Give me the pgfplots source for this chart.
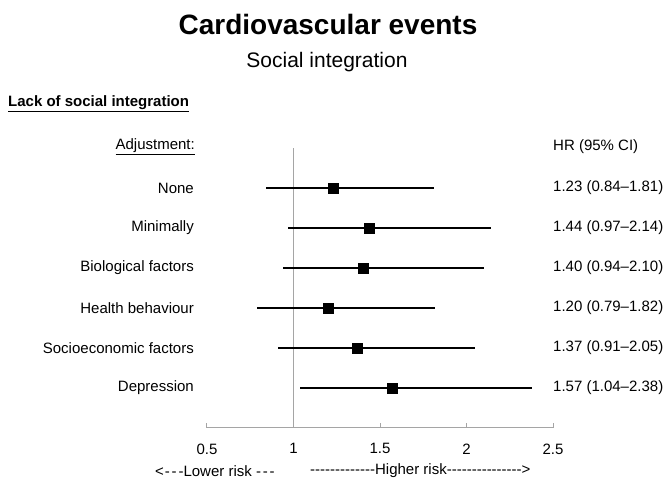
\documentclass[border=0pt]{standalone}
\usepackage{pgfplots}
\pgfplotsset{compat=1.18}
\usepackage{pgfplotstable}
\usepackage{fontspec}
\setmainfont{Liberation Sans}[Ligatures=TeXOff]

\definecolor{refgray}{RGB}{165,165,165}

% hazard ratios, row 6 = top
\pgfplotstableread{
row hr lo hi
6 1.23 0.84 1.81
5 1.44 0.97 2.14
4 1.40 0.94 2.10
3 1.20 0.79 1.82
2 1.37 0.91 2.05
1 1.57 1.04 2.38
}\hrdata

\newcommand{\fs}{\fontsize{15pt}{18pt}\selectfont}
\newcommand{\dsh}{-\kern1.8pt-\kern1.8pt-}

\begin{document}
\begin{tikzpicture}[font=\fs]
\path[use as bounding box] (0,0) rectangle (670pt,478pt);

\node[font=\fontsize{28pt}{32pt}\selectfont\bfseries] at (328pt,453pt) {Cardiovascular events};
\node[font=\fontsize{21pt}{25pt}\selectfont] at (327pt,416pt) {Social integration};
\node[anchor=west, inner sep=0pt, font=\fs\bfseries] at (8pt,374pt) {\underline{Lack of social integration}};
\node[anchor=east, inner sep=0pt] at (195pt,331pt) {\underline{Adjustment:}};
\node[anchor=west, inner sep=0pt] at (553pt,331pt) {HR (95\% CI)};

\begin{axis}[
  at={(207pt,50pt)}, anchor=south west,
  scale only axis, width=346pt, height=280pt,
  xmin=0.5, xmax=2.5, ymin=0, ymax=7,
  axis x line*=bottom, axis y line=none,
  ytick=\empty,
  xtick={0.5,1,1.5,2,2.5},
  xtick align=inside, major tick length=5pt,
  x axis line style={refgray, line width=1pt},
  every tick/.style={refgray, line width=1pt},
  xticklabel style={font=\fs, yshift=-12pt},
  /pgf/number format/assume math mode=true,
  clip=false,
]
\addplot[refgray, line width=1pt] coordinates {(1,0) (1,7)};

\addplot[black, only marks, mark=square*, mark size=5pt,
  error bars/.cd, x dir=both, x explicit, error mark=none,
  error bar style={line width=2.5pt, black}]
  table[x=hr, y=row,
        x error plus expr=\thisrow{hi}-\thisrow{hr},
        x error minus expr=\thisrow{hr}-\thisrow{lo}] {\hrdata};

\node[anchor=east, inner sep=0pt, xshift=-13pt] at (axis cs:0.5,6) {None};
\node[anchor=east, inner sep=0pt, xshift=-13pt] at (axis cs:0.5,5) {Minimally};
\node[anchor=east, inner sep=0pt, xshift=-13pt] at (axis cs:0.5,4) {Biological factors};
\node[anchor=east, inner sep=0pt, xshift=-13pt] at (axis cs:0.5,3) {Health behaviour};
\node[anchor=east, inner sep=0pt, xshift=-13pt] at (axis cs:0.5,2) {Socioeconomic factors};
\node[anchor=east, inner sep=0pt, xshift=-13pt] at (axis cs:0.5,1) {Depression};

\node[anchor=west, inner sep=0pt] at (axis cs:2.5,6) {1.23 (0.84–1.81)};
\node[anchor=west, inner sep=0pt] at (axis cs:2.5,5) {1.44 (0.97–2.14)};
\node[anchor=west, inner sep=0pt] at (axis cs:2.5,4) {1.40 (0.94–2.10)};
\node[anchor=west, inner sep=0pt] at (axis cs:2.5,3) {1.20 (0.79–1.82)};
\node[anchor=west, inner sep=0pt] at (axis cs:2.5,2) {1.37 (0.91–2.05)};
\node[anchor=west, inner sep=0pt] at (axis cs:2.5,1) {1.57 (1.04–2.38)};
\end{axis}

\node[anchor=west, inner sep=0pt] at (155pt,7pt) {<\kern1pt\dsh Lower risk \dsh};
\node[anchor=west, inner sep=0pt] at (310pt,7pt) {-------------Higher risk--------------->};
\end{tikzpicture}
\end{document}
